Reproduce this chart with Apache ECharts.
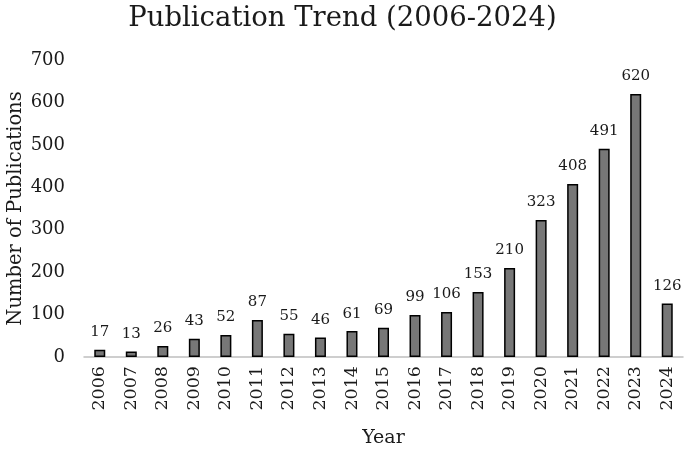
<!DOCTYPE html>
<html>
<head>
<meta charset="utf-8">
<script src="https://cdn.jsdelivr.net/npm/echarts@6/dist/echarts.min.js"></script>
<style>
html,body{margin:0;padding:0;background:#fff;}
#chart{width:685px;height:449px;}
</style>
</head>
<body>
<div id="chart"></div>
<script>
const years = ['2006','2007','2008','2009','2010','2011','2012','2013','2014','2015','2016','2017','2018','2019','2020','2021','2022','2023','2024'];
const publications = [17,13,26,43,52,87,55,46,61,69,99,106,153,210,323,408,491,620,126];
const yTicks = {min:0, max:700, interval:100};

const FONT = 'DejaVu Serif';
const chart = echarts.init(document.getElementById('chart'), null, {renderer:'canvas'});
chart.setOption({
  animation:false,
  backgroundColor:'#fff',
  title:{
    text:'Publication Trend (2006-2024)',
    left:'center', top:0,
    textStyle:{fontFamily:FONT, fontSize:27.5, fontWeight:'normal', color:'#1a1a1a'}
  },
  grid:{left:84, right:2, top:60, bottom:92, containLabel:false, outerBoundsMode:'none'},
  xAxis:{
    type:'category',
    data:years,
    name:'Year',
    nameLocation:'middle',
    nameGap:72,
    nameMoveOverlap:false,
    nameTextStyle:{fontFamily:FONT, fontSize:19, color:'#1a1a1a'},
    axisLine:{show:true, lineStyle:{color:'#bfbfbf', width:1.5}},
    axisTick:{show:false},
    axisLabel:{rotate:90, margin:9, fontFamily:FONT, fontSize:17.5, color:'#1a1a1a', interval:0}
  },
  yAxis:{
    type:'value',
    min:yTicks.min, max:yTicks.max, interval:yTicks.interval,
    name:'Number of Publications',
    nameLocation:'middle',
    nameGap:58,
    nameMoveOverlap:false,
    nameTextStyle:{fontFamily:FONT, fontSize:19.5, color:'#1a1a1a'},
    axisLine:{show:false},
    axisTick:{show:false},
    splitLine:{show:false},
    axisLabel:{margin:19, fontFamily:FONT, fontSize:18, color:'#1a1a1a'}
  },
  series:[{
    type:'bar',
    data:publications,
    barWidth:11,
    itemStyle:{color:'#777777', borderColor:'#000', borderWidth:1.5},
    label:{show:true, position:'top', distance:10, fontFamily:FONT, fontSize:15, color:'#1a1a1a'}
  }]
});
</script>
</body>
</html>
